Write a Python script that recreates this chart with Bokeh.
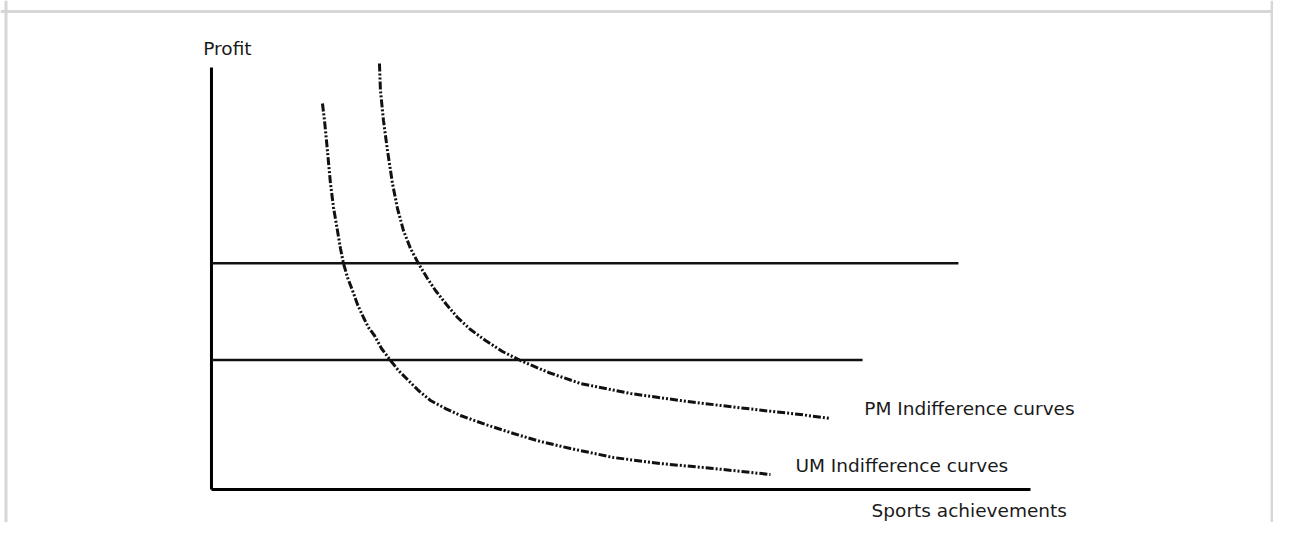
from bokeh.plotting import figure
from bokeh.models import Range1d, Span
from bokeh.embed import file_html
from bokeh.resources import INLINE
from bokeh.core.properties import value

# ---- data (schematic units: sports achievements 0-100, profit 0-100) ----
um_x = [13.55, 13.80, 14.04, 14.29, 14.53, 14.90, 15.38, 15.75, 16.12, 16.61, 17.22, 17.83,
        18.56, 19.17, 19.90, 20.76, 21.86, 22.83, 24.05, 25.27, 26.74, 28.57, 30.40, 33.46,
        36.87, 40.17, 43.83, 49.08, 54.82, 61.29, 68.25]
um_y = [91.47, 87.44, 82.70, 77.49, 72.51, 66.82, 61.37, 57.11, 53.55, 50.24, 47.16, 43.84,
        40.76, 38.39, 36.49, 33.41, 30.57, 28.20, 25.83, 23.46, 21.09, 19.19, 17.54, 15.40,
        13.27, 11.37, 9.72, 7.58, 6.16, 4.98, 3.55]

pm_x = [20.51, 20.63, 21.00, 21.49, 22.10, 22.71, 23.44, 24.30, 25.27, 26.37, 27.35, 28.69,
        30.04, 31.62, 33.46, 35.53, 37.73, 41.15, 45.05, 51.16, 57.26, 62.15, 67.40, 71.92, 75.58]
pm_y = [100.95, 94.55, 87.44, 80.33, 72.51, 66.59, 61.37, 57.11, 53.55, 50.00, 47.16, 43.84,
        40.76, 37.91, 35.31, 32.70, 30.57, 27.73, 25.12, 22.75, 21.09, 19.91, 18.72, 17.77, 16.82]

# horizontal constraint lines: level and extent
hline_y = [53.6, 30.7]
hline_x_end = [91.2, 79.5]

# axes extents
x_axis_end = 100.0
y_axis_end = 100.0

labels = ["Profit", "PM Indifference curves", "UM Indifference curves", "Sports achievements"]
label_x = [-1.0, 79.7, 71.3, 80.6]
label_y = [104.5, 19.2, 5.7, -5.0]

W, H = 1273, 522
p = figure(width=W, height=H, output_backend="svg", toolbar_location=None,
           x_range=Range1d(-25.76, 129.67), y_range=Range1d(-7.82, 115.88),
           min_border=0, min_border_left=0, min_border_right=0,
           min_border_top=0, min_border_bottom=0)
p.axis.visible = False
p.grid.visible = False
p.outline_line_color = None
p.background_fill_color = "white"
p.border_fill_color = "white"

# light gray frame (top, left, right)
frame_col = "#d6d6d6"
p.add_layout(Span(location=113.27, dimension="width", line_color=frame_col, line_width=3))
p.add_layout(Span(location=-25.09, dimension="height", line_color=frame_col, line_width=3))
p.add_layout(Span(location=129.5, dimension="height", line_color=frame_col, line_width=3))

# axes drawn as plain lines
p.segment(x0=[0, 0], y0=[0, 0], x1=[x_axis_end, 0], y1=[0, y_axis_end],
          line_color="black", line_width=3)

# horizontal lines
p.segment(x0=[0, 0], y0=hline_y, x1=hline_x_end, y1=hline_y,
          line_color="#111111", line_width=2.5)

# indifference curves (dash-dot-dot)
dash = "8 2 2 2 2 2"
p.line(um_x, um_y, line_color="#111111", line_width=3, line_dash=dash, line_join="round")
p.line(pm_x, pm_y, line_color="#111111", line_width=3, line_dash=dash, line_join="round")

p.text(x=label_x, y=label_y, text=labels, text_font=value("DejaVu Sans"),
       text_font_size="18.5px", text_color="#1a1a1a",
       text_align="left", text_baseline="alphabetic")

open("out.html", "w").write(file_html(p, INLINE))
